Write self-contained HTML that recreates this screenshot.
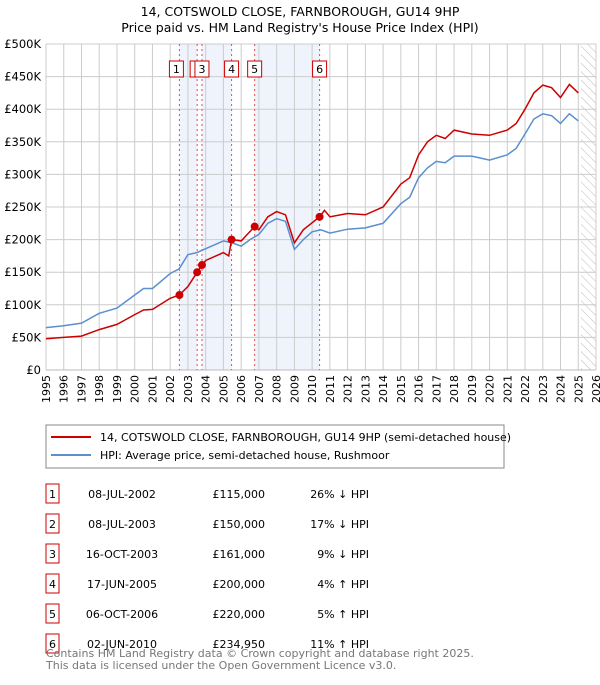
<!DOCTYPE html>
<html><head><meta charset="utf-8"><style>
body{margin:0;background:#fff;font-family:"Liberation Sans","DejaVu Sans",sans-serif;}
svg text{font-family:"DejaVu Sans","Liberation Sans",sans-serif;}
</style></head><body>
<svg id="c" width="600" height="680" xmlns="http://www.w3.org/2000/svg">
<defs><pattern id="hatch" width="6" height="6" patternUnits="userSpaceOnUse" patternTransform="rotate(-45)"><line x1="0" y1="0" x2="0" y2="6" stroke="#bbb" stroke-width="1"/></pattern></defs>
<text x="300" y="16" text-anchor="middle" font-size="12.5" fill="#000">14, COTSWOLD CLOSE, FARNBOROUGH, GU14 9HP</text>
<text x="300" y="32" text-anchor="middle" font-size="12.5" fill="#000">Price paid vs. HM Land Registry's House Price Index (HPI)</text>
<g id="plot"></g>
<rect x="46" y="425" width="458" height="43" fill="#fff" stroke="#888"/>
<line x1="51" y1="437" x2="91" y2="437" stroke="#cc0000" stroke-width="2"/>
<text x="100" y="441" font-size="11">14, COTSWOLD CLOSE, FARNBOROUGH, GU14 9HP (semi-detached house)</text>
<line x1="51" y1="455" x2="91" y2="455" stroke="#5b8fd0" stroke-width="2"/>
<text x="100" y="459" font-size="11">HPI: Average price, semi-detached house, Rushmoor</text>
<g id="table"></g>
<text x="46" y="657" font-size="11" fill="#777">Contains HM Land Registry data © Crown copyright and database right 2025.</text>
<text x="46" y="669" font-size="11" fill="#777">This data is licensed under the Open Government Licence v3.0.</text>
</svg>
<script>
const hpiYears=[1995,1996,1997,1998,1999,2000,2000.5,2001,2002,2002.5,2003,2003.5,2004,2005,2005.5,2006,2006.5,2007,2007.5,2008,2008.5,2009,2009.5,2010,2010.5,2011,2012,2013,2014,2015,2015.5,2016,2016.5,2017,2017.5,2018,2019,2020,2021,2021.5,2022,2022.5,2023,2023.5,2024,2024.5,2025];
const hpiValues=[65,68,72,87,95,115,125,125,148,155,177,180,186,198,195,190,200,208,225,232,228,185,200,212,215,210,216,218,225,255,265,295,310,320,318,328,328,322,330,340,362,385,393,390,378,393,382];
const priceYears=[1995,1996,1997,1998,1999,2000,2000.5,2001,2002,2002.52,2003,2003.52,2003.79,2004,2005,2005.3,2005.46,2006,2006.76,2007,2007.5,2008,2008.5,2009,2009.5,2010.42,2010.7,2011,2012,2013,2014,2015,2015.5,2016,2016.5,2017,2017.5,2018,2019,2020,2021,2021.5,2022,2022.5,2023,2023.5,2024,2024.5,2025];
const priceValues=[48,50,52,62,70,85,92,93,110,115,128,150,161,168,180,175,200,198,220,215,235,243,238,195,215,235,245,235,240,238,250,285,295,330,350,360,355,368,362,360,368,378,400,425,437,433,418,438,425];
const saleLabels=["1","2","3","4","5","6"];
const saleDates=[2002.52,2003.52,2003.79,2005.46,2006.76,2010.42];
const salePrices=[115,150,161,200,220,234.95];
const saleDateText=["08-JUL-2002","08-JUL-2003","16-OCT-2003","17-JUN-2005","06-OCT-2006","02-JUN-2010"];
const salePriceText=["£115,000","£150,000","£161,000","£200,000","£220,000","£234,950"];
const saleHpiText=["26% ↓ HPI","17% ↓ HPI","9% ↓ HPI","4% ↑ HPI","5% ↑ HPI","11% ↑ HPI"];
const yTicks=[0,50,100,150,200,250,300,350,400,450,500];
const yTickLabels=["£0","£50K","£100K","£150K","£200K","£250K","£300K","£350K","£400K","£450K","£500K"];
const xTicks=[1995,1996,1997,1998,1999,2000,2001,2002,2003,2004,2005,2006,2007,2008,2009,2010,2011,2012,2013,2014,2015,2016,2017,2018,2019,2020,2021,2022,2023,2024,2025,2026];

const L=46,R=596,T=44,B=370;
const X=y=>L+(y-1995)/(2026-1995)*(R-L);
const Y=v=>B-v/500*(B-T);
const NS="http://www.w3.org/2000/svg";
const plot=document.getElementById('plot');
function mk(tag,attrs,parent){const e=document.createElementNS(NS,tag);for(const k in attrs)e.setAttribute(k,attrs[k]);(parent||plot).appendChild(e);return e;}

for(let i=0;i+1<saleDates.length;i+=2){
 const r=mk('rect',{x:X(saleDates[i]),y:T,width:X(saleDates[i+1])-X(saleDates[i]),height:B-T,fill:'#eef3fc'});
 
 
}
const h=mk('rect',{x:X(2025.15),y:T,width:R-X(2025.15),height:B-T,fill:'url(#hatch)'});


xTicks.forEach(t=>{
 const g=mk('line',{x1:X(t),x2:X(t),y1:T,y2:B,stroke:'#ccc','stroke-width':1});
 
 
 const tx=mk('text',{x:0,y:0,'font-size':11,'text-anchor':'end',transform:`translate(${X(t)+4},${B+5}) rotate(-90)`});
 tx.textContent=t;
 
 
});
yTicks.forEach((t,i)=>{
 const g=mk('line',{x1:L,x2:R,y1:Y(t),y2:Y(t),stroke:'#ccc','stroke-width':1});
 
 
 const tx=mk('text',{x:L-5,y:Y(t)+4,'font-size':11.5,'text-anchor':'end'});
 tx.textContent=yTickLabels[i];
 
 
});
mk('line',{x1:L,x2:R,y1:B,y2:B,stroke:'#bbb'});
saleDates.forEach(d=>{
 const l=mk('line',{x1:X(d),x2:X(d),y1:T,y2:B,stroke:'#e05050','stroke-width':1,'stroke-dasharray':'2,3'});
 
 
});
function path(xs,vs){return xs.map((x,i)=>(i?'L':'M')+X(x).toFixed(1)+','+Y(vs[i]).toFixed(1)).join('');}
const hp=mk('path',{d:path(hpiYears,hpiValues),fill:'none',stroke:'#5b8fd0','stroke-width':1.5});


const pp=mk('path',{d:path(priceYears,priceValues),fill:'none',stroke:'#cc0000','stroke-width':1.5});


saleDates.forEach((d,i)=>{
 const c=mk('circle',{cx:X(d),cy:Y(salePrices[i]),r:4,fill:'#cc0000'});
 
 
});
saleDates.forEach((d,i)=>{
 const bx=X(d)-7-(i===0?3:0);
 const r=mk('rect',{x:bx,y:61,width:14,height:16,fill:'#fff',stroke:'#cc0000'});
 
 
 const t=mk('text',{x:bx+7,y:73,'font-size':11,'text-anchor':'middle'});
 t.textContent=saleLabels[i];
 
 
});
const tb=document.getElementById('table');
saleLabels.forEach((s,i)=>{
 const y=484+i*30;
 const r=mk('rect',{x:46,y:y,width:13,height:19,fill:'#fff',stroke:'#cc0000'},tb);
 
 
 const cells=[[52.5,'middle',s],[122,'middle',saleDateText[i]],[265,'end',salePriceText[i]],[369,'end',saleHpiText[i]]];
 cells.forEach(c=>{
  const t=mk('text',{x:c[0],y:y+14,'font-size':11,'text-anchor':c[1]},tb);
  t.textContent=c[2];
  
  
 });
});
</script>
</body></html>
